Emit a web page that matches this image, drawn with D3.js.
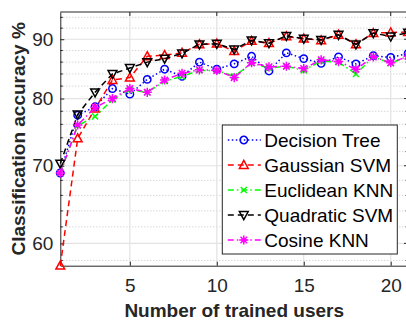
<!DOCTYPE html>
<html>
<head>
<meta charset="utf-8">
<script src="https://cdn.jsdelivr.net/npm/d3@7"></script>
<style>
  body { margin: 0; background: #fff; }
  text { font-family: "Liberation Sans", Arial, Helvetica, sans-serif; }
</style>
</head>
<body>
<div id="chart"></div>
<script>
var users = d3.range(1, 22);
var decisionTree = [69.0, 77.4, 78.7, 81.6, 80.7, 83.1, 84.8, 83.6, 86.0, 84.8, 85.7, 87.0, 84.5, 87.6, 86.6, 85.8, 86.9, 85.7, 87.1, 86.8, 87.5];
var gaussianSVM  = [57.4, 73.9, 78.4, 83.0, 83.4, 87.0, 87.2, 87.6, 89.1, 89.2, 87.9, 89.7, 89.3, 90.5, 90.1, 89.8, 90.8, 89.1, 91.1, 91.2, 91.3];
var euclideanKNN = [69.0, 75.8, 77.2, 79.8, 81.4, 81.0, 82.8, 83.6, 84.6, 84.6, 83.6, 85.8, 85.0, 85.3, 84.6, 86.2, 86.0, 84.0, 86.9, 85.8, 87.0];
var quadraticSVM = [70.3, 77.5, 81.0, 84.0, 85.0, 86.0, 86.6, 87.5, 89.1, 89.2, 88.2, 89.8, 89.3, 90.6, 90.1, 89.9, 90.8, 89.1, 91.1, 90.5, 91.2];
var cosineKNN    = [69.0, 75.9, 78.6, 80.0, 81.6, 81.0, 83.0, 84.1, 84.7, 84.6, 83.4, 85.9, 85.2, 85.3, 84.9, 86.4, 86.1, 84.8, 86.9, 85.9, 87.0];
var seriesNames = ["Decision Tree", "Gaussian SVM", "Euclidean KNN", "Quadratic SVM", "Cosine KNN"];
var xTicks = [5, 10, 15, 20];
var yTicks = [60, 70, 80, 90];
var yMinorTicks = [58, 62, 64, 66, 68, 72, 74, 76, 78, 82, 84, 86, 88, 92, 94];

var series = [
  {name: seriesNames[0], values: decisionTree, color: "#0000ff", dash: "1.5,2.5", marker: "circle"},
  {name: seriesNames[1], values: gaussianSVM, color: "#ff0000", dash: "6,4", marker: "up"},
  {name: seriesNames[2], values: euclideanKNN, color: "#00ff00", dash: "6,3,1.5,3", marker: "x"},
  {name: seriesNames[3], values: quadraticSVM, color: "#000000", dash: "6,4", marker: "down"},
  {name: seriesNames[4], values: cosineKNN, color: "#ff00ff", dash: "6,3,1.5,3", marker: "star"}
];

var W = 406, H = 321;
var margin = {top: 12, left: 60.3},
  width = 347.8,
  height = 253.7,
  x = d3.scaleLinear().domain([1, 21]).range([0, width]),
  y = d3.scaleLog().domain([57.4, 95]).range([height, 0]);

var axisColor = "#262626";

var svg = d3.select("#chart")
  .append("svg")
  .attr("width", W)
  .attr("height", H)
  .append("g")
  .attr("transform", "translate(" + margin.left + "," + margin.top + ")");

// minor grid (dotted)
svg.append("g")
  .selectAll("line")
  .data(yMinorTicks)
  .enter()
  .append("line")
  .attr("x1", 0).attr("x2", width)
  .attr("y1", function(d) { return y(d); })
  .attr("y2", function(d) { return y(d); })
  .attr("stroke", "#c4c4c4")
  .attr("stroke-width", 1)
  .attr("stroke-dasharray", "1,2");

// major grid
svg.append("g")
  .selectAll("line")
  .data(yTicks)
  .enter()
  .append("line")
  .attr("x1", 0).attr("x2", width)
  .attr("y1", function(d) { return y(d); })
  .attr("y2", function(d) { return y(d); })
  .attr("stroke", "#e2e2e2")
  .attr("stroke-width", 1.2);

svg.append("g")
  .selectAll("line")
  .data(xTicks)
  .enter()
  .append("line")
  .attr("y1", 0).attr("y2", height)
  .attr("x1", function(d) { return x(d); })
  .attr("x2", function(d) { return x(d); })
  .attr("stroke", "#e2e2e2")
  .attr("stroke-width", 1.2);

// axes
var xAxis = d3.axisBottom(x).tickValues(xTicks).tickFormat(d3.format("d")).tickSizeInner(-4).tickSizeOuter(0).tickPadding(13);
var yAxis = d3.axisLeft(y).tickValues(yTicks).tickFormat(d3.format("d")).tickSizeInner(-4).tickSizeOuter(0).tickPadding(7);

var gx = svg.append("g")
  .attr("transform", "translate(0," + height + ")")
  .call(xAxis);
var gy = svg.append("g").call(yAxis);

[gx, gy].forEach(function(g) {
  g.select(".domain").attr("stroke", axisColor).attr("stroke-width", 1);
  g.selectAll(".tick line").attr("stroke", axisColor);
  g.selectAll("text")
    .attr("fill", axisColor)
    .style("font-size", "19px");
});

// top and right box edges with ticks
svg.append("line").attr("x1", 0).attr("x2", width).attr("y1", 0).attr("y2", 0).attr("stroke", axisColor);
svg.append("line").attr("x1", width).attr("x2", width).attr("y1", 0).attr("y2", height).attr("stroke", axisColor);
svg.append("g").selectAll("line").data(xTicks).enter().append("line")
  .attr("x1", function(d) { return x(d); }).attr("x2", function(d) { return x(d); })
  .attr("y1", 0).attr("y2", 4).attr("stroke", axisColor);
svg.append("g").selectAll("line").data(yTicks).enter().append("line")
  .attr("y1", function(d) { return y(d); }).attr("y2", function(d) { return y(d); })
  .attr("x1", width).attr("x2", width - 4).attr("stroke", axisColor);

// minor ticks
svg.append("g").selectAll("line").data(yMinorTicks).enter().append("line")
  .attr("y1", function(d) { return y(d); }).attr("y2", function(d) { return y(d); })
  .attr("x1", 0).attr("x2", 2.5).attr("stroke", axisColor);
svg.append("g").selectAll("line").data(yMinorTicks).enter().append("line")
  .attr("y1", function(d) { return y(d); }).attr("y2", function(d) { return y(d); })
  .attr("x1", width).attr("x2", width - 2.5).attr("stroke", axisColor);

// axis labels
svg.append("text")
  .attr("x", width / 2)
  .attr("y", 316.5 - margin.top)
  .attr("text-anchor", "middle")
  .style("font-size", "19px")
  .style("font-weight", "bold")
  .attr("fill", axisColor)
  .text("Number of trained users");

svg.append("text")
  .attr("transform", "rotate(-90)")
  .attr("x", -height / 2)
  .attr("y", 25 - margin.left)
  .attr("text-anchor", "middle")
  .style("font-size", "19px")
  .style("font-weight", "bold")
  .attr("fill", axisColor)
  .text("Classification accuracy %");

function markerPath(type) {
  if (type === "circle") return "M3.7,0A3.7,3.7 0 1,1 -3.7,0A3.7,3.7 0 1,1 3.7,0Z";
  if (type === "up") return "M0,-4.6L4.4,3.4L-4.4,3.4Z";
  if (type === "down") return "M0,4.6L4.4,-3.4L-4.4,-3.4Z";
  if (type === "x") return "M-3,-3L3,3M-3,3L3,-3";
  var s = 4.6, a = 3.3;
  return "M" + (-s) + ",0L" + s + ",0M0," + (-s) + "L0," + s +
    "M" + (-a) + "," + (-a) + "L" + a + "," + a + "M" + (-a) + "," + a + "L" + a + "," + (-a);
}

var line = d3.line()
  .x(function(d, i) { return x(users[i]); })
  .y(function(d) { return y(d); });

series.forEach(function(s) {
  var g = svg.append("g");
  g.append("path")
    .attr("d", line(s.values))
    .attr("fill", "none")
    .attr("stroke", s.color)
    .attr("stroke-width", 1.5)
    .attr("stroke-dasharray", s.dash);
  g.selectAll("path.mk")
    .data(s.values)
    .enter()
    .append("path")
    .attr("class", "mk")
    .attr("d", markerPath(s.marker))
    .attr("transform", function(d, i) { return "translate(" + x(users[i]) + "," + y(d) + ")"; })
    .attr("fill", "none")
    .attr("stroke", s.color)
    .attr("stroke-width", 1.5);
});

// legend
var legend = svg.append("g")
  .attr("transform", "translate(" + (222.3 - margin.left) + "," + (125 - margin.top) + ")");

legend.append("rect")
  .attr("width", 175)
  .attr("height", 129)
  .attr("fill", "#fff")
  .attr("stroke", axisColor)
  .attr("stroke-width", 1);

var item = legend.selectAll("g.item")
  .data(series)
  .enter()
  .append("g")
  .attr("class", "item")
  .attr("transform", function(d, i) { return "translate(0," + (15 + i * 25) + ")"; });

item.append("line")
  .attr("x1", 5.5).attr("x2", 38.5)
  .attr("stroke", function(d) { return d.color; })
  .attr("stroke-width", 1.5)
  .attr("stroke-dasharray", function(d) { return d.dash; });

item.append("path")
  .attr("d", function(d) { return markerPath(d.marker); })
  .attr("transform", "translate(21.5,0)")
  .attr("fill", "none")
  .attr("stroke", function(d) { return d.color; })
  .attr("stroke-width", 1.5);

item.append("text")
  .attr("x", 42)
  .attr("dy", "0.35em")
  .style("font-size", "19px")
  .attr("fill", "#000")
  .text(function(d) { return d.name; });
</script>
</body>
</html>
